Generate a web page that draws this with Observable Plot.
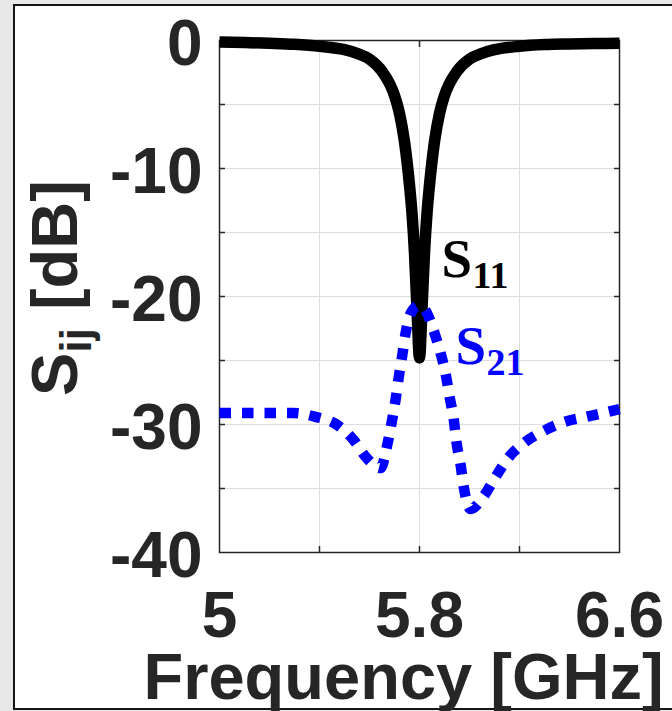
<!DOCTYPE html>
<html>
<head>
<meta charset="utf-8">
<script src="https://cdn.jsdelivr.net/npm/d3@7"></script>
<script src="https://cdn.jsdelivr.net/npm/@observablehq/plot@0.6"></script>
<style>
  html, body { margin: 0; padding: 0; background: #e8e8e8; width: 672px; height: 711px; overflow: hidden; }
  #panel { position: absolute; left: 13px; top: 4px; width: 720px; height: 706px; box-sizing: border-box;
           border: 2px solid #151515; background: #fff; }
  #chart { position: absolute; left: 0; top: 0; }
  #chart svg { overflow: visible; }
</style>
</head>
<body>
<div id="panel"></div>
<div id="chart"></div>
<script>
// ---- data ----
const s11Freq = [5.00, 5.10, 5.20, 5.30, 5.40, 5.50, 5.55, 5.60, 5.65, 5.70, 5.72, 5.74, 5.76, 5.77, 5.78, 5.79, 5.80,
                 5.81, 5.82, 5.83, 5.84, 5.86, 5.88, 5.90, 5.95, 6.00, 6.05, 6.10, 6.20, 6.30, 6.40, 6.50, 6.60];
const s11Db   = [-0.12, -0.16, -0.22, -0.30, -0.45, -0.72, -1.00, -1.45, -2.40, -4.30, -5.70, -7.90, -11.3, -13.5, -16.6, -21.0, -24.8,
                 -21.0, -16.6, -13.5, -11.3, -7.90, -5.70, -4.30, -2.40, -1.45, -1.00, -0.72, -0.45, -0.32, -0.27, -0.24, -0.22];

const s21Freq = [5.000, 5.115, 5.292, 5.384, 5.468, 5.536, 5.588, 5.644, 5.671, 5.688, 5.704, 5.717, 5.731, 5.744, 5.765, 5.797,
                 5.830, 5.857, 5.884, 5.904, 5.921, 5.937, 5.948, 5.964, 5.977, 6.004, 6.057, 6.104, 6.155, 6.221, 6.297, 6.381, 6.468, 6.557, 6.600];
const s21Db   = [-29.1, -29.1, -29.1, -29.4, -30.0, -31.2, -32.6, -33.4, -31.6, -29.9, -28.1, -26.3, -24.6, -22.9, -21.3, -20.7,
                 -21.3, -22.7, -24.4, -26.0, -27.9, -29.6, -31.4, -33.1, -34.9, -36.6, -35.6, -34.1, -32.6, -31.4, -30.5, -29.8, -29.4, -29.0, -28.8];

const xDomain = [5, 6.6];
const yDomain = [-40, 0];
const xTickLabels = [5, 5.8, 6.6];
const xTicks = [5.4, 5.8, 6.2];
const yTickLabels = [0, -10, -20, -30, -40];
const yTicks = [-5, -10, -15, -20, -25, -30, -35];

const annNames = ["S", "S"];
const annSubs = ["11", "21"];
const annFreq = [5.888, 5.944];
const annDb = [-18.5, -25.26];
const annColors = ["#000000", "#0000ff"];

const xLabel = "Frequency [GHz]";
const yLabelMain = "S";
const yLabelSub = "ij";
const yLabelUnit = " [dB]";

// ---- tables built from the arrays ----
const s11 = s11Freq.map((f, i) => ({f, db: s11Db[i]}));
const s21 = s21Freq.map((f, i) => ({f, db: s21Db[i]}));
const ann = annNames.map((n, i) => ({name: n, sub: annSubs[i], f: annFreq[i], db: annDb[i], color: annColors[i]}));

const sans = "'Liberation Sans', Arial, Helvetica, sans-serif";
const serif = "'Liberation Serif', 'Times New Roman', serif";
const axisColor = "#262626";
const gridColor = "#dedede";

const chart = Plot.plot({
  width: 672,
  height: 711,
  marginLeft: 219,
  marginRight: 53,
  marginTop: 40,
  marginBottom: 159,
  style: {background: "transparent", overflow: "visible"},
  x: {domain: xDomain, label: null},
  y: {domain: yDomain, label: null},
  marks: [
    Plot.ruleX(xTicks, {stroke: gridColor, strokeWidth: 1}),
    Plot.ruleY(yTicks, {stroke: gridColor, strokeWidth: 1}),
    Plot.frame({stroke: axisColor, strokeWidth: 1.5}),
    // inward ticks on all four sides
    Plot.axisX({anchor: "bottom", ticks: xTicks, tickSize: -6, tickFormat: () => "", stroke: axisColor, strokeWidth: 1.5, label: null}),
    Plot.axisX({anchor: "top", ticks: xTicks, tickSize: -6, tickFormat: () => "", stroke: axisColor, strokeWidth: 1.5, label: null}),
    Plot.axisY({anchor: "left", ticks: yTicks, tickSize: -6, tickFormat: () => "", stroke: axisColor, strokeWidth: 1.5, label: null}),
    Plot.axisY({anchor: "right", ticks: yTicks, tickSize: -6, tickFormat: () => "", stroke: axisColor, strokeWidth: 1.5, label: null}),
    // tick labels
    Plot.axisX({anchor: "bottom", ticks: xTickLabels, tickSize: 0, tickPadding: 39, tickFormat: d => String(d),
                fontSize: 64, fontWeight: "bold", fontFamily: sans, fill: axisColor, label: null}),
    Plot.axisY({anchor: "left", ticks: yTickLabels, tickSize: 0, tickPadding: 17, tickFormat: d => String(d),
                fontSize: 64, fontWeight: "bold", fontFamily: sans, fill: axisColor, dy: 4, label: null}),
    // x axis title
    Plot.text([xLabel], {frameAnchor: "bottom", text: d => d, lineAnchor: "bottom", dy: 146, dx: -16,
                         fontSize: 65, fontWeight: "bold", fontFamily: sans, fill: axisColor}),
    // curves
    Plot.line(s11, {x: "f", y: "db", stroke: "#000000", strokeWidth: 11.5, curve: "monotone-x",
                    strokeLinejoin: "round", strokeLinecap: "butt"}),
    Plot.line(s21, {x: "f", y: "db", stroke: "#0000ff", strokeWidth: 10.5, curve: "monotone-x",
                    strokeDasharray: "11.5,11", strokeLinecap: "butt", strokeLinejoin: "round"}),
    // curve annotations with subscripts
    Plot.text(ann, {x: "f", y: "db", text: "name", fill: "color", textAnchor: "start", lineAnchor: "bottom",
                    fontSize: 55, fontWeight: "bold", fontFamily: serif}),
    Plot.text(ann, {x: "f", y: "db", text: "sub", fill: "color", textAnchor: "start", lineAnchor: "bottom", dx: 31, dy: 11,
                    fontSize: 38, fontWeight: "bold", fontFamily: serif})
  ]
});

document.getElementById("chart").appendChild(chart);

// y axis title with a subscript (real text, tspans)
const svg = d3.select(chart);
const yt = svg.append("text")
  .attr("transform", "translate(77,288) rotate(-90)")
  .attr("text-anchor", "middle")
  .attr("font-family", sans)
  .attr("font-weight", "bold")
  .attr("font-size", 65)
  .attr("fill", axisColor);
yt.append("tspan").text(yLabelMain);
yt.append("tspan").attr("font-size", 44).attr("dy", 14).text(yLabelSub);
yt.append("tspan").attr("dy", -14).text(yLabelUnit);
</script>
</body>
</html>
